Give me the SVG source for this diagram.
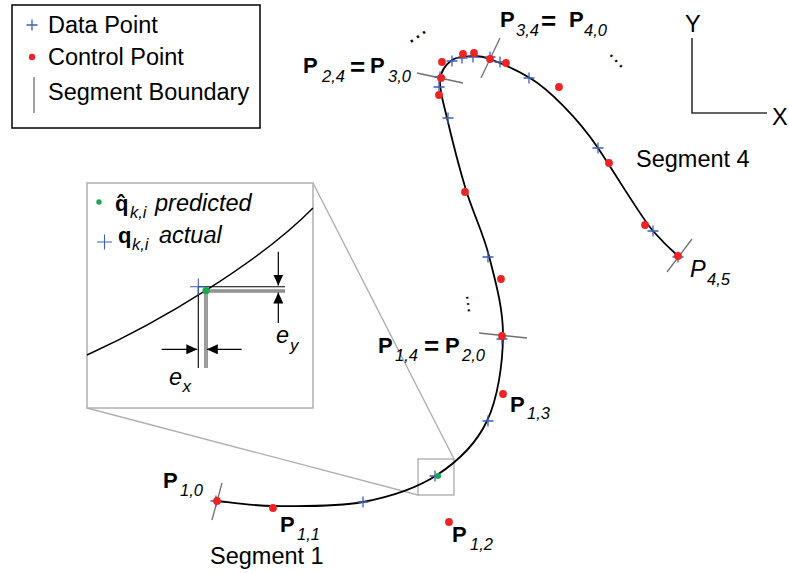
<svg xmlns="http://www.w3.org/2000/svg" xmlns:xlink="http://www.w3.org/1999/xlink" width="789" height="573" viewBox="0 0 789 573">
<style>
text{font-family:"Liberation Sans",Arial,sans-serif;fill:#000}
.t{font-size:23.5px}
.P{font-size:22px;font-weight:bold}
.s{font-size:16.5px;font-style:italic}
.eq{font-size:26px;font-weight:bold}
.i{font-style:italic}
.plus{stroke:#3f5fb5;stroke-width:1.3;fill:none}
.cp{fill:#ee2424}
.bd{stroke:#707070;stroke-width:1.3}
.zoom{stroke:#b0b0b0;stroke-width:1.4;fill:none}
.curve{stroke:#000;stroke-width:1.8;fill:none}
.ax{stroke:#333;stroke-width:1.6;fill:none}
.arr{stroke:#000;stroke-width:1.2;marker-end:url(#ah)}
</style>
<defs>
<path id="dp" class="plus" d="M-5.5,0H5.5M0,-5.5V5.5"/>
<circle id="cpt" class="cp" r="3.9"/>
<marker id="ah" markerUnits="userSpaceOnUse" markerWidth="11" markerHeight="10" refX="11" refY="5" orient="auto"><path d="M0,0L11,5L0,10z" fill="#000"/></marker>
</defs>
<rect width="789" height="573" fill="#fff"/>

<g id="legend">
<rect x="12" y="5" width="248" height="123" fill="#fff" stroke="#000" stroke-width="1.5"/>
<use xlink:href="#dp" x="32" y="25"/>
<text class="t" x="48" y="33">Data Point</text>
<circle class="cp" cx="32" cy="57" r="3.2"/>
<text class="t" x="48" y="65">Control Point</text>
<line class="bd" x1="34" y1="77" x2="34" y2="113"/>
<text class="t" x="48" y="100">Segment Boundary</text>
</g>

<g id="zoom-links">
<line class="zoom" x1="313" y1="183" x2="454" y2="459"/>
<line class="zoom" x1="87" y1="408" x2="418" y2="495"/>
<rect class="zoom" x="418" y="459" width="36" height="36"/>
</g>

<g id="curve">
<path class="curve" d="M217,501 C226.5,501.8 249.7,505.8 274,506 C298.3,506.2 335.8,507.2 363,502 C390.2,496.8 416.3,488.5 437,475 C457.7,461.5 476,444.2 487,421 C498,397.8 502.7,363.5 503,336 C503.3,308.5 495.2,280.3 489,256 C482.8,231.7 473,213 466,190 C459,167 451.3,136.3 447,118 C442.7,99.7 439.2,89.7 440,80 C440.8,70.3 446.5,64 452,60 C457.5,56 466.7,56.2 473,56 C479.3,55.8 482,56 490,59 C499.5,62.7 518,70.8 530,78 C548,88.8 578,118 598,148 C618,178 641,217 653,231 C661,240 670,249 678,256"/>
</g>

<g id="boundaries">
<line class="bd" x1="222" y1="483" x2="212" y2="520"/>
<line class="bd" x1="479" y1="333" x2="527" y2="338"/>
<line class="bd" x1="417" y1="73" x2="463" y2="83"/>
<line class="bd" x1="500" y1="38" x2="481" y2="78"/>
<line class="bd" x1="692" y1="239" x2="667" y2="272"/>
</g>

<g id="data-points">
<use xlink:href="#dp" x="216" y="501"/>
<use xlink:href="#dp" x="363" y="502"/>
<use xlink:href="#dp" x="435" y="476"/>
<use xlink:href="#dp" x="488" y="421"/>
<use xlink:href="#dp" x="502" y="339"/>
<use xlink:href="#dp" x="488" y="257"/>
<use xlink:href="#dp" x="448" y="118"/>
<use xlink:href="#dp" x="439" y="87"/>
<use xlink:href="#dp" x="440" y="77"/>
<use xlink:href="#dp" x="452" y="61"/>
<use xlink:href="#dp" x="462" y="58"/>
<use xlink:href="#dp" x="473" y="57"/>
<use xlink:href="#dp" x="490" y="57"/>
<use xlink:href="#dp" x="500" y="62"/>
<use xlink:href="#dp" x="529" y="78"/>
<use xlink:href="#dp" x="598" y="148"/>
<use xlink:href="#dp" x="653" y="231"/>
<use xlink:href="#dp" x="678" y="257"/>
</g>

<g id="control-points">
<use xlink:href="#cpt" x="217" y="501"/>
<use xlink:href="#cpt" x="273" y="508"/>
<use xlink:href="#cpt" x="449" y="522"/>
<use xlink:href="#cpt" x="503" y="394"/>
<use xlink:href="#cpt" x="502" y="336"/>
<use xlink:href="#cpt" x="501" y="279"/>
<use xlink:href="#cpt" x="465" y="192"/>
<use xlink:href="#cpt" x="439" y="95"/>
<use xlink:href="#cpt" x="441" y="78"/>
<use xlink:href="#cpt" x="442" y="62"/>
<use xlink:href="#cpt" x="463" y="54"/>
<use xlink:href="#cpt" x="474" y="53"/>
<use xlink:href="#cpt" x="490" y="59"/>
<use xlink:href="#cpt" x="506" y="63"/>
<use xlink:href="#cpt" x="559" y="87"/>
<use xlink:href="#cpt" x="609" y="163"/>
<use xlink:href="#cpt" x="645" y="225"/>
<use xlink:href="#cpt" x="678" y="256"/>
<circle cx="438" cy="476" r="3" fill="#1aa850"/>
</g>

<g id="labels">
<g id="lbl-p10"><text class="P" x="163" y="488">P</text><text class="s" x="180" y="496">1,0</text></g>
<g id="lbl-p11"><text class="P" x="280" y="532">P</text><text class="s" x="297" y="540">1,1</text></g>
<g id="lbl-p12"><text class="P" x="452" y="542">P</text><text class="s" x="470" y="550">1,2</text></g>
<g id="lbl-p13"><text class="P" x="510" y="412">P</text><text class="s" x="527" y="419">1,3</text></g>
<g id="lbl-p14"><text class="P" x="378" y="353">P</text><text class="s" x="395" y="361">1,4</text><text class="eq" x="424" y="355">=</text><text class="P" x="445" y="353">P</text><text class="s" x="462" y="361">2,0</text></g>
<g id="lbl-p24"><text class="P" x="303" y="73">P</text><text class="s" x="322" y="82">2,4</text><text class="eq" x="350" y="76">=</text><text class="P" x="370" y="73">P</text><text class="s" x="388" y="82">3,0</text></g>
<g id="lbl-p34"><text class="P" x="500" y="27">P</text><text class="s" x="516" y="36">3,4</text><text class="eq" x="541" y="30">=</text><text class="P" x="569" y="27">P</text><text class="s" x="584" y="36">4,0</text></g>
<g id="lbl-p45"><text class="t i" x="690" y="277">P</text><text class="s" x="707" y="285">4,5</text></g>
<text class="t" x="210" y="564">Segment 1</text>
<text class="t" x="636" y="167">Segment 4</text>
<text class="t" text-anchor="middle" transform="rotate(-35 418 37)" x="418" y="38">…</text>
<text class="t" text-anchor="middle" transform="rotate(47 616 61)" x="616" y="62" style="font-size:22px">…</text>
<text class="t" text-anchor="middle" transform="rotate(83 468 304)" x="468" y="305" style="font-size:20px">…</text>
</g>

<g id="axes">
<polyline class="ax" points="692,38 692,113 767,113"/>
<text class="t" x="685" y="32">Y</text>
<text class="t" x="772" y="125">X</text>
</g>

<g id="inset">
<rect x="87" y="183" width="226" height="225" fill="#fff" stroke="#b0b0b0" stroke-width="1.5"/>
<circle cx="99" cy="202" r="2.7" fill="#1aa850"/>
<text class="P" x="115" y="211">q̂</text>
<text class="s" x="130" y="218">k,i</text>
<text class="t i" x="155" y="211">predicted</text>
<path class="plus" d="M97,242H112M104.5,234.5V249.5" style="stroke-width:1.1"/>
<text class="P" x="118" y="243">q</text>
<text class="s" x="132" y="250">k,i</text>
<text class="t i" x="159" y="243">actual</text>
<path d="M87,355 C160,322 260,262 313,208" stroke="#000" stroke-width="1.4" fill="none"/>
<line x1="198" y1="286.7" x2="285" y2="286.7" stroke="#000" stroke-width="1.1"/>
<line x1="198.3" y1="286.7" x2="198.3" y2="368" stroke="#000" stroke-width="1.1"/>
<path d="M206,368V291H285" stroke="#555" stroke-width="3.2" fill="none"/>
<path d="M206,368V291H285" stroke="#d0d0d0" stroke-width="1.2" fill="none"/>
<path class="plus" d="M190,286.7H206.5M198.3,278.5V295" style="stroke-width:1.1"/>
<circle cx="206" cy="290.7" r="3.6" fill="#1aa850"/>
<line class="arr" x1="278.3" y1="251.7" x2="278.3" y2="285.5"/>
<line class="arr" x1="278.3" y1="323" x2="278.3" y2="292.5"/>
<line class="arr" x1="161.7" y1="349.3" x2="197.3" y2="349.3"/>
<line class="arr" x1="241.7" y1="349.3" x2="206.8" y2="349.3"/>
<text class="t i" x="276" y="343">e</text>
<text class="s" x="290" y="351" style="font-size:17px">y</text>
<text class="t i" x="169" y="385">e</text>
<text class="s" x="182.5" y="392" style="font-size:17px">x</text>
</g>
</svg>
